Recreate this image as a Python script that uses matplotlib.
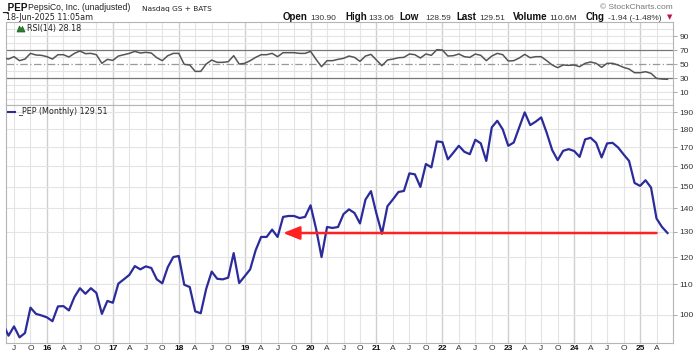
import matplotlib
matplotlib.use('Agg')
import matplotlib.pyplot as plt
from matplotlib.patches import Polygon
from matplotlib.lines import Line2D

# ---------------- data ----------------
# month index: 0 = Jun 2015 ... 120 = Jun 2025 (-1 = May 2015, partly off-chart)
months = list(range(-1, 121))
price = [97.0, 93.5, 96.3, 93.0, 94.3, 102.2, 100.2, 99.7, 99.1, 97.9, 102.6,
         102.7, 101.3, 105.7, 108.7, 106.8, 108.7, 107.1, 100.2, 104.4, 103.8,
         110.3, 111.8, 113.4, 116.6, 115.4, 116.5, 115.9, 111.8, 110.4, 116.2,
         120.0, 120.4, 109.9, 109.1, 101.0, 100.4, 108.5, 114.6, 112.0, 111.8,
         112.4, 121.5, 110.5, 112.9, 115.4, 122.6, 127.9, 127.9, 130.9, 127.9,
         136.3, 136.7, 136.7, 135.8, 136.3, 141.4, 131.3, 120.0, 132.0, 131.6,
         132.0, 137.5, 139.6, 138.0, 133.5, 144.0, 147.9, 137.7, 129.2, 141.0,
         144.1, 147.5, 148.0, 156.5, 156.0, 149.9, 161.2, 159.5, 173.2, 172.8,
         163.6, 167.1, 170.8, 167.6, 166.3, 174.1, 172.1, 162.8, 181.1, 184.9,
         179.9, 170.8, 172.6, 181.1, 189.9, 182.4, 184.4, 186.9, 178.0, 168.5,
         163.2, 168.1, 169.0, 168.0, 164.9, 174.3, 175.2, 172.4, 164.6, 172.1,
         172.4, 169.9, 166.2, 162.8, 151.8, 150.4, 153.1, 149.6, 135.6, 132.0,
         129.51]
rsi = [59.0, 57.1, 60.5, 54.8, 57.1, 65.2, 62.9, 62.4, 60.5, 57.1, 63.3,
       63.3, 60.0, 65.2, 68.6, 64.8, 65.2, 63.3, 51.0, 56.7, 55.2,
       61.4, 63.3, 65.2, 68.1, 65.7, 66.7, 65.7, 59.0, 54.8, 61.9,
       65.2, 65.2, 49.5, 48.6, 39.5, 39.5, 50.0, 55.7, 52.4, 52.4,
       53.3, 61.9, 50.0, 51.0, 54.8, 59.5, 63.3, 63.3, 65.2, 60.5,
       66.2, 66.2, 66.2, 65.2, 65.2, 68.1, 56.7, 46.2, 54.8, 54.8,
       56.7, 58.1, 61.4, 59.5, 53.8, 61.4, 63.8, 55.7, 47.6, 55.7,
       57.1, 59.0, 59.5, 64.3, 63.3, 58.6, 64.3, 62.4, 70.5, 70.0,
       61.4, 61.9, 64.3, 60.5, 59.5, 64.3, 62.4, 54.8, 61.4, 65.2,
       63.3, 54.3, 54.8, 58.6, 63.8, 59.0, 60.5, 60.5, 54.8, 48.6,
       44.8, 48.6, 48.1, 48.6, 46.2, 51.0, 52.9, 51.0, 45.2, 51.0,
       51.0, 48.6, 45.2, 42.9, 37.6, 37.6, 39.0, 36.7, 29.5, 28.6,
       28.18]
quarter_ticks = list(range(1, 119, 3))
quarter_labels = ['J', 'O',
                  '16', 'A', 'J', 'O', '17', 'A', 'J', 'O', '18', 'A', 'J', 'O',
                  '19', 'A', 'J', 'O', '20', 'A', 'J', 'O', '21', 'A', 'J', 'O',
                  '22', 'A', 'J', 'O', '23', 'A', 'J', 'O', '24', 'A', 'J', 'O',
                  '25', 'A']
price_ticks = [100, 110, 120, 130, 140, 150, 160, 170, 180, 190]
rsi_ticks = [10, 30, 50, 70, 90]
support_level = 129.51
arrow_from, arrow_to = 118, 50

# ---------------- figure ----------------
W, H = 696, 355
fig = plt.figure(figsize=(W / 100, H / 100), dpi=100)
fig.patch.set_facecolor('white')

def fx(x):
    return x / W

def fy(y):
    return 1 - y / H

L, R = 6, 673
ax_r = fig.add_axes([fx(L), fy(105), fx(R - L), (105 - 22) / H])
ax = fig.add_axes([fx(L), fy(342.5), fx(R - L), (342.5 - 105) / H])

SANS = 'Liberation Sans'
VERD = 'DejaVu Sans'
LINE_BLUE = '#2b2b9c'
TXT = '#333333'
XLIM = (-0.46, 121.0)

for a in (ax, ax_r):
    a.set_xlim(*XLIM)
    for s in a.spines.values():
        s.set_color('#b5b5b5')
        s.set_linewidth(0.8)
    for i, q in enumerate(quarter_ticks):
        isyear = quarter_labels[i].isdigit()
        a.axvline(q, color='#cfcfcf' if isyear else '#e4e4e4',
                  lw=1.0 if isyear else 0.8, zorder=0)

# ---- RSI panel ----
ax_r.set_ylim(-8.5, 110)
for v in range(0, 101, 10):
    if v in (30, 70):
        ax_r.axhline(v, color='#777777', lw=0.9, zorder=1)
    elif v == 50:
        ax_r.axhline(v, color='#999999', lw=0.9, ls=(0, (6, 2, 1, 2)), zorder=1)
    else:
        ax_r.axhline(v, color='#e4e4e4', lw=0.8, zorder=0)
ax_r.plot(months, rsi, color='#555555', lw=1.1, zorder=3)
ax_r.set_xticks([])
ax_r.yaxis.tick_right()
ax_r.set_yticks(rsi_ticks)
ax_r.set_yticklabels([str(t) for t in rsi_ticks], fontsize=6, family=SANS, color=TXT)
ax_r.tick_params(axis='y', length=3, width=0.6, color='#999999', pad=1.5)

# ---- price panel ----
ax.set_yscale('log')
ax.set_ylim(91.5, 194.4)
for v in price_ticks:
    ax.axhline(v, color='#e4e4e4', lw=0.8, zorder=0)
ax.plot(months, price, color=LINE_BLUE, lw=1.6, zorder=3, solid_joinstyle='round')
ax.yaxis.tick_right()
ax.yaxis.set_minor_locator(matplotlib.ticker.NullLocator())
ax.set_yticks(price_ticks)
ax.set_yticklabels([str(t) for t in price_ticks], fontsize=6, family=SANS, color=TXT)
ax.tick_params(axis='y', length=3, width=0.6, color='#999999', pad=1.5)
ax.set_xticks(quarter_ticks)
ax.set_xticklabels(quarter_labels, fontsize=6, family=SANS, color=TXT)
for lab in ax.get_xticklabels():
    if lab.get_text().isdigit():
        lab.set_fontweight('bold')
        lab.set_color('#111111')
ax.tick_params(axis='x', length=0, pad=2.0)

ax.annotate('', xy=(arrow_to, support_level), xytext=(arrow_from, support_level),
            arrowprops=dict(arrowstyle='-|>,head_length=1.0,head_width=0.4',
                            color='#ff2020', lw=1.8, shrinkA=0, shrinkB=0),
            zorder=4)

# ---- header texts ----
fig.text(fx(2), fy(10.5), '_PEP', fontsize=7.2, fontweight='bold', family=SANS,
         color='#111111', va='baseline')
fig.text(fx(28.5), fy(10.5), 'PepsiCo, Inc. (unadjusted)', fontsize=6.2, family=SANS,
         color='#222222', va='baseline')
fig.text(fx(142), fy(10.5), 'Nasdaq GS + BATS', fontsize=5.3, family=VERD,
         color='#222222', va='baseline')
fig.text(fx(673), fy(9), '\u00a9 StockCharts.com', fontsize=6, family=SANS,
         color='#777777', va='baseline', ha='right')
fig.text(fx(6), fy(19.5), '18-Jun-2025 11:05am', fontsize=5.8, family=VERD,
         color='#222222', va='baseline')

pieces = [(283, 'Open', True), (310, '130.90', False),
          (345, 'High', True), (368, '133.06', False),
          (399, 'Low', True), (425, '128.59', False),
          (456, 'Last', True), (479, '129.51', False),
          (513, 'Volume', True), (549, '110.6M', False),
          (586, 'Chg', True), (608, '-1.94 (-1.48%)', False)]
for x, t, b in pieces:
    fig.text(fx(x), fy(19.5), t, fontsize=7 if b else 6, family=SANS,
             fontweight='bold' if b else 'normal',
             color='#111111' if b else '#333333', va='baseline')
fig.text(fx(667), fy(19.5), '\u25bc', fontsize=5, family=VERD, color='#c0143c',
         va='baseline')

# RSI legend with small icon
icon = Polygon([[fx(17), fy(32)], [fx(19.5), fy(26)], [fx(21), fy(29)],
                [fx(22.5), fy(26.5)], [fx(25), fy(32)]],
               closed=True, transform=fig.transFigure, facecolor='#2e7d32',
               edgecolor='#1b5e20', lw=0.5)
fig.patches.append(icon)
fig.text(fx(27), fy(31.5), 'RSI(14) 28.18', fontsize=5.8, family=VERD,
         color='#222222', va='baseline')

# price legend
fig.lines.append(Line2D([fx(8), fx(15)], [fy(111.5), fy(111.5)],
                        transform=fig.transFigure, color=LINE_BLUE, lw=1.5))
fig.text(fx(18), fy(114.3), '_PEP (Monthly) 129.51', fontsize=5.8, family=VERD,
         color='#222222', va='baseline')

fig.savefig('out.png', dpi=100, facecolor='white')
